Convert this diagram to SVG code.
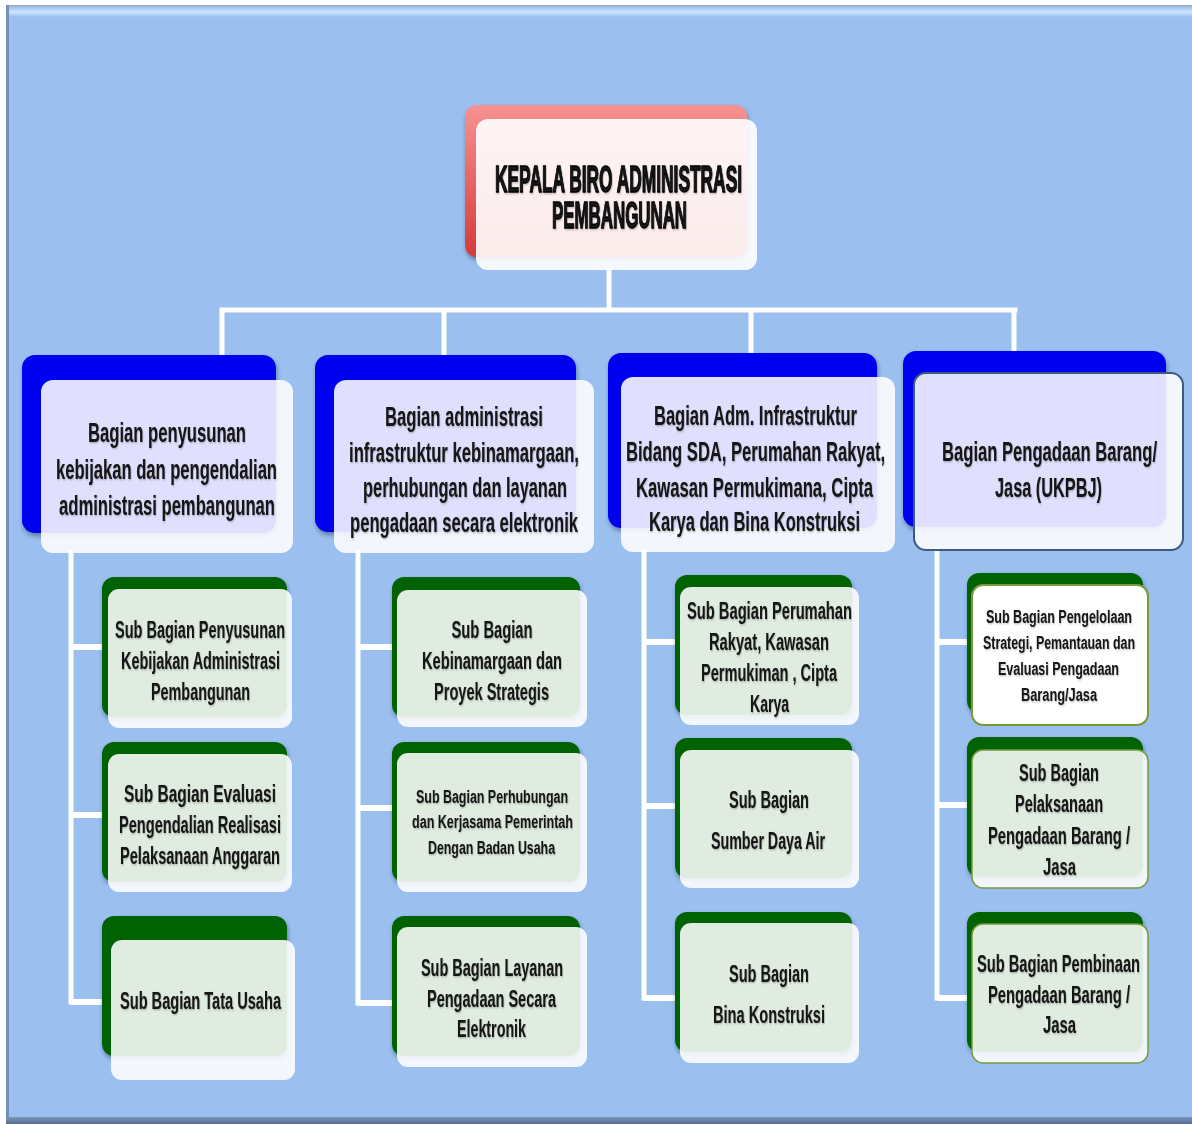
<svg xmlns="http://www.w3.org/2000/svg" width="1192" height="1124" viewBox="0 0 1192 1124">
<defs>
<linearGradient id="gRed" x1="0" y1="0" x2="0" y2="1"><stop offset="0" stop-color="#f89292"/><stop offset="1" stop-color="#d43a3a"/></linearGradient>
<linearGradient id="gTop" x1="0" y1="0" x2="0" y2="1"><stop offset="0" stop-color="#9ca8bf"/><stop offset="0.25" stop-color="#a8c8f2"/><stop offset="0.6" stop-color="#cde6ff"/><stop offset="1" stop-color="#9bbfef"/></linearGradient>
<linearGradient id="gBot" x1="0" y1="0" x2="0" y2="1"><stop offset="0" stop-color="#7d96bb"/><stop offset="1" stop-color="#566c8e"/></linearGradient>
<filter id="sh" x="-10%" y="-10%" width="120%" height="130%"><feDropShadow dx="1" dy="3" stdDeviation="2" flood-color="#1a2a40" flood-opacity="0.45"/></filter>
<filter id="ts" x="-5%" y="-20%" width="110%" height="140%"><feDropShadow dx="1" dy="1" stdDeviation="0.8" flood-color="#000" flood-opacity="0.3"/></filter>
</defs>
<style>
.t{font-family:"Liberation Sans",Arial,sans-serif;font-weight:bold;fill:#141414;text-anchor:middle;filter:url(#ts)}
.tt{font-size:37px;stroke:#000;stroke-width:1.3px}
.tb{font-size:27px}
.ts{font-size:23px}
.tx{font-size:19px}
.blue{fill:#0000f0;filter:url(#sh)}
.green{fill:#006200;filter:url(#sh)}
.fr{fill:#ffffff;fill-opacity:0.88}
.frw{fill:#ffffff;stroke:#7a9a3a;stroke-width:2}
.frg{fill:#ffffff;fill-opacity:0.88;stroke:#7a9a3a;stroke-width:1.5}
.con{stroke:#ffffff;stroke-width:5;fill:none;stroke-linecap:square}
.stub{stroke:#ffffff;stroke-width:6;fill:none}
</style>
<rect x="0" y="0" width="1192" height="1124" fill="#ffffff"/>
<rect x="6" y="5" width="1190" height="1119" fill="#9bbfef"/>
<rect x="6" y="5" width="1190" height="12" fill="url(#gTop)"/>
<rect x="6" y="5" width="3" height="1119" fill="#7591b8"/>
<rect x="6" y="1117" width="1190" height="7" fill="url(#gBot)"/>

<g id="connectors">
<path class="con" d="M609 270V310M222 310H1015M222 310V356M444 310V356M751 310V354M1014 310V352"/>
<path class="con" d="M71 553V1002M358 553V1003M644 552V998M937 550V998"/>
<path class="stub" d="M71 647H104M71 815H104M71 1002H104"/>
<path class="stub" d="M358 647H394M358 808H394M358 1003H394"/>
<path class="stub" d="M644 642H677M644 806H677M644 998H677"/>
<path class="stub" d="M937 642H969M937 805H969M937 998H969"/>
</g>

<g id="kepala">
<rect x="465" y="105" width="282" height="152" rx="12" fill="url(#gRed)" filter="url(#sh)"/>
<rect x="476" y="119" width="281" height="151" rx="12" fill="#ffffff" fill-opacity="0.9"/>
<text class="t tt" transform="translate(618.5 192) scale(0.6 1)"><tspan x="0" y="0" textLength="411.7" lengthAdjust="spacingAndGlyphs">KEPALA BIRO ADMINISTRASI</tspan><tspan x="1.7" y="36" textLength="225" lengthAdjust="spacingAndGlyphs">PEMBANGUNAN</tspan></text>
</g>

<g id="bagian1">
<rect class="blue" x="22" y="355" width="254" height="178" rx="13"/>
<rect class="fr" x="41" y="380" width="252" height="173" rx="12"/>
<text class="t tb" transform="translate(167 442) scale(0.6 1)" textLength="263.3" lengthAdjust="spacingAndGlyphs">Bagian penyusunan</text>
<text class="t tb" transform="translate(166.5 478.5) scale(0.6 1)" textLength="368.3" lengthAdjust="spacingAndGlyphs">kebijakan dan pengendalian</text>
<text class="t tb" transform="translate(167 515) scale(0.6 1)" textLength="360" lengthAdjust="spacingAndGlyphs">administrasi pembangunan</text>
</g>

<g id="bagian2">
<rect class="blue" x="315" y="355" width="261" height="177" rx="13"/>
<rect class="fr" x="334" y="380" width="260" height="173" rx="12"/>
<text class="t tb" transform="translate(464 426) scale(0.6 1)" textLength="263.3" lengthAdjust="spacingAndGlyphs">Bagian administrasi</text>
<text class="t tb" transform="translate(464 462) scale(0.6 1)" textLength="383.3" lengthAdjust="spacingAndGlyphs">infrastruktur kebinamargaan,</text>
<text class="t tb" transform="translate(465 497) scale(0.6 1)" textLength="340" lengthAdjust="spacingAndGlyphs">perhubungan dan layanan</text>
<text class="t tb" transform="translate(464 532) scale(0.6 1)" textLength="380" lengthAdjust="spacingAndGlyphs">pengadaan secara elektronik</text>
</g>

<g id="bagian3">
<rect class="blue" x="608" y="353" width="269" height="175" rx="13"/>
<rect class="fr" x="621" y="377" width="274" height="175" rx="12"/>
<text class="t tb" transform="translate(755.5 425) scale(0.6 1)" textLength="338.3" lengthAdjust="spacingAndGlyphs">Bagian Adm. Infrastruktur</text>
<text class="t tb" transform="translate(755.5 461) scale(0.6 1)" textLength="431.7" lengthAdjust="spacingAndGlyphs">Bidang SDA, Perumahan Rakyat,</text>
<text class="t tb" transform="translate(754.5 496.5) scale(0.6 1)" textLength="395" lengthAdjust="spacingAndGlyphs">Kawasan Permukimana, Cipta</text>
<text class="t tb" transform="translate(754.5 531) scale(0.6 1)" textLength="351.7" lengthAdjust="spacingAndGlyphs">Karya dan Bina Konstruksi</text>
</g>

<g id="bagian4">
<rect class="blue" x="903" y="351" width="263" height="176" rx="13"/>
<rect x="914" y="373" width="269" height="177" rx="12" fill="#ffffff" fill-opacity="0.88" stroke="#3d5a80" stroke-width="2"/>
<text class="t tb" transform="translate(1049.5 461) scale(0.6 1)" textLength="358.3" lengthAdjust="spacingAndGlyphs">Bagian Pengadaan Barang/</text>
<text class="t tb" transform="translate(1048.5 497) scale(0.6 1)" textLength="178.3" lengthAdjust="spacingAndGlyphs">Jasa (UKPBJ)</text>
</g>

<g id="sub1a">
<rect class="green" x="102" y="577" width="185" height="140" rx="12"/>
<rect class="fr" x="108" y="589" width="184" height="139" rx="11"/>
<text class="t ts" transform="translate(200 638) scale(0.6 1)" textLength="283.3" lengthAdjust="spacingAndGlyphs">Sub Bagian Penyusunan</text>
<text class="t ts" transform="translate(200.5 669) scale(0.6 1)" textLength="265" lengthAdjust="spacingAndGlyphs">Kebijakan Administrasi</text>
<text class="t ts" transform="translate(200.5 699.5) scale(0.6 1)" textLength="165" lengthAdjust="spacingAndGlyphs">Pembangunan</text>
</g>
<g id="sub1b">
<rect class="green" x="102" y="742" width="185" height="140" rx="12"/>
<rect class="fr" x="108" y="754" width="184" height="138" rx="11"/>
<text class="t ts" transform="translate(200 802) scale(0.6 1)" textLength="253.3" lengthAdjust="spacingAndGlyphs">Sub Bagian Evaluasi</text>
<text class="t ts" transform="translate(200 833) scale(0.6 1)" textLength="270" lengthAdjust="spacingAndGlyphs">Pengendalian Realisasi</text>
<text class="t ts" transform="translate(200 864) scale(0.6 1)" textLength="266.7" lengthAdjust="spacingAndGlyphs">Pelaksanaan Anggaran</text>
</g>
<g id="sub1c">
<rect class="green" x="102" y="916" width="185" height="140" rx="12"/>
<rect class="fr" x="111" y="940" width="184" height="140" rx="11"/>
<text class="t ts" transform="translate(200.5 1009) scale(0.6 1)" textLength="268.3" lengthAdjust="spacingAndGlyphs">Sub Bagian Tata Usaha</text>
</g>

<g id="sub2a">
<rect class="green" x="392" y="577" width="188" height="140" rx="12"/>
<rect class="fr" x="397" y="590" width="190" height="137" rx="11"/>
<text class="t ts" transform="translate(492 638) scale(0.6 1)" textLength="135" lengthAdjust="spacingAndGlyphs">Sub Bagian</text>
<text class="t ts" transform="translate(492 669) scale(0.6 1)" textLength="233.3" lengthAdjust="spacingAndGlyphs">Kebinamargaan dan</text>
<text class="t ts" transform="translate(491.5 700) scale(0.6 1)" textLength="191.7" lengthAdjust="spacingAndGlyphs">Proyek Strategis</text>
</g>
<g id="sub2b">
<rect class="green" x="392" y="742" width="188" height="140" rx="12"/>
<rect class="fr" x="397" y="753" width="190" height="139" rx="11"/>
<text class="t tx" transform="translate(492 803) scale(0.6 1)" textLength="253.3" lengthAdjust="spacingAndGlyphs">Sub Bagian Perhubungan</text>
<text class="t tx" transform="translate(492.5 828) scale(0.6 1)" textLength="268.3" lengthAdjust="spacingAndGlyphs">dan Kerjasama Pemerintah</text>
<text class="t tx" transform="translate(491.5 854) scale(0.6 1)" textLength="211.7" lengthAdjust="spacingAndGlyphs">Dengan Badan Usaha</text>
</g>
<g id="sub2c">
<rect class="green" x="392" y="916" width="188" height="140" rx="12"/>
<rect class="fr" x="397" y="927" width="190" height="140" rx="11"/>
<text class="t ts" transform="translate(492 976) scale(0.6 1)" textLength="236.7" lengthAdjust="spacingAndGlyphs">Sub Bagian Layanan</text>
<text class="t ts" transform="translate(491.5 1007) scale(0.6 1)" textLength="215" lengthAdjust="spacingAndGlyphs">Pengadaan Secara</text>
<text class="t ts" transform="translate(491.5 1037) scale(0.6 1)" textLength="115" lengthAdjust="spacingAndGlyphs">Elektronik</text>
</g>

<g id="sub3a">
<rect class="green" x="675" y="575" width="177" height="140" rx="12"/>
<rect class="fr" x="680" y="587" width="179" height="138" rx="11"/>
<text class="t ts" transform="translate(769.5 619) scale(0.6 1)" textLength="275" lengthAdjust="spacingAndGlyphs">Sub Bagian Perumahan</text>
<text class="t ts" transform="translate(769 650) scale(0.6 1)" textLength="200" lengthAdjust="spacingAndGlyphs">Rakyat, Kawasan</text>
<text class="t ts" transform="translate(769 681) scale(0.6 1)" textLength="226.7" lengthAdjust="spacingAndGlyphs">Permukiman , Cipta</text>
<text class="t ts" transform="translate(769.5 712) scale(0.6 1)" textLength="65" lengthAdjust="spacingAndGlyphs">Karya</text>
</g>
<g id="sub3b">
<rect class="green" x="675" y="738" width="177" height="140" rx="12"/>
<rect class="fr" x="680" y="750" width="179" height="138" rx="11"/>
<text class="t ts" transform="translate(769 808) scale(0.6 1)" textLength="133.3" lengthAdjust="spacingAndGlyphs">Sub Bagian</text>
<text class="t ts" transform="translate(768 849) scale(0.6 1)" textLength="190" lengthAdjust="spacingAndGlyphs">Sumber Daya Air</text>
</g>
<g id="sub3c">
<rect class="green" x="675" y="912" width="177" height="140" rx="12"/>
<rect class="fr" x="680" y="923" width="179" height="140" rx="11"/>
<text class="t ts" transform="translate(769 982) scale(0.6 1)" textLength="133.3" lengthAdjust="spacingAndGlyphs">Sub Bagian</text>
<text class="t ts" transform="translate(769 1023) scale(0.6 1)" textLength="186.7" lengthAdjust="spacingAndGlyphs">Bina Konstruksi</text>
</g>

<g id="sub4a">
<rect class="green" x="967" y="573" width="176" height="140" rx="12"/>
<rect class="frw" x="972" y="585" width="176" height="140" rx="11"/>
<text class="t tx" transform="translate(1059 623) scale(0.6 1)" textLength="243.3" lengthAdjust="spacingAndGlyphs">Sub Bagian Pengelolaan</text>
<text class="t tx" transform="translate(1059 649) scale(0.6 1)" textLength="253.3" lengthAdjust="spacingAndGlyphs">Strategi, Pemantauan dan</text>
<text class="t tx" transform="translate(1058.5 675) scale(0.6 1)" textLength="201.7" lengthAdjust="spacingAndGlyphs">Evaluasi Pengadaan</text>
<text class="t tx" transform="translate(1059 701) scale(0.6 1)" textLength="126.7" lengthAdjust="spacingAndGlyphs">Barang/Jasa</text>
</g>
<g id="sub4b">
<rect class="green" x="967" y="737" width="176" height="140" rx="12"/>
<rect class="frg" x="972" y="750" width="176" height="138" rx="11"/>
<text class="t ts" transform="translate(1059 781) scale(0.6 1)" textLength="133.3" lengthAdjust="spacingAndGlyphs">Sub Bagian</text>
<text class="t ts" transform="translate(1059 812) scale(0.6 1)" textLength="146.7" lengthAdjust="spacingAndGlyphs">Pelaksanaan</text>
<text class="t ts" transform="translate(1059 844) scale(0.6 1)" textLength="236.7" lengthAdjust="spacingAndGlyphs">Pengadaan Barang /</text>
<text class="t ts" transform="translate(1059.5 875) scale(0.6 1)" textLength="55" lengthAdjust="spacingAndGlyphs">Jasa</text>
</g>
<g id="sub4c">
<rect class="green" x="967" y="912" width="176" height="140" rx="12"/>
<rect class="frg" x="972" y="924" width="176" height="139" rx="11"/>
<text class="t ts" transform="translate(1058.5 972) scale(0.6 1)" textLength="271.7" lengthAdjust="spacingAndGlyphs">Sub Bagian Pembinaan</text>
<text class="t ts" transform="translate(1059 1003) scale(0.6 1)" textLength="236.7" lengthAdjust="spacingAndGlyphs">Pengadaan Barang /</text>
<text class="t ts" transform="translate(1059.5 1033) scale(0.6 1)" textLength="55" lengthAdjust="spacingAndGlyphs">Jasa</text>
</g>
</svg>
